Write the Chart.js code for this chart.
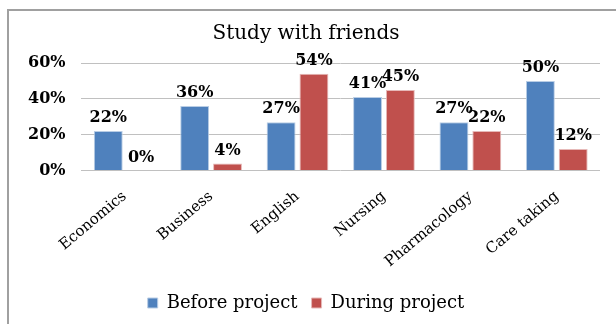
<!DOCTYPE html>
<html>
<head>
<meta charset="utf-8">
<script src="https://cdn.jsdelivr.net/npm/chart.js@4"></script>
<style>
  html, body { margin: 0; padding: 0; background: #fff; overflow: hidden; }
  #frame { position: absolute; left: 7px; top: 9px; width: 640px; height: 340px; border: 2px solid #a0a0a0; box-sizing: border-box; }
  #wrap { position: absolute; left: 0; top: 0; width: 616px; height: 324px; }
</style>
</head>
<body>
<div id="frame"></div>
<div id="wrap"><canvas id="chart" width="616" height="324"></canvas></div>
<script>
let subjects = ["Economics", "Business", "English", "Nursing", "Pharmacology", "Care taking"];
let beforeProject = [22, 36, 27, 41, 27, 50];
let duringProject = [0, 4, 54, 45, 22, 12];
let yTicks = [0, 20, 40, 60];

let serif = "'DejaVu Serif', 'Liberation Serif', serif";

// write each bar's value just above it
let valueLabels = {
  id: "valueLabels",
  afterDatasetsDraw(chart) {
    let ctx = chart.ctx;
    ctx.save();
    ctx.font = "bold 16px " + serif;
    ctx.fillStyle = "#000";
    ctx.textAlign = "center";
    ctx.textBaseline = "bottom";
    chart.data.datasets.forEach((ds, i) => {
      chart.getDatasetMeta(i).data.forEach((bar, j) => {
        ctx.fillText(ds.data[j] + "%", bar.x, bar.y - 5);
      });
    });
    ctx.restore();
  }
};

let ctx = document.getElementById("chart").getContext("2d");

new Chart(ctx, {
  type: "bar",
  data: {
    labels: subjects,
    datasets: [
      { label: "Before project", data: beforeProject, backgroundColor: "#4F81BD", borderColor: "#b9cde5", borderWidth: 1 },
      { label: "During project", data: duringProject, backgroundColor: "#C0504D", borderColor: "#e6b9b8", borderWidth: 1 }
    ]
  },
  options: {
    responsive: false,
    animation: false,
    layout: { padding: { left: 12, right: 16, top: 12, bottom: 2 } },
    datasets: { bar: { categoryPercentage: 0.76, barPercentage: 0.88 } },
    scales: {
      x: {
        grid: { display: false },
        border: { display: false },
        ticks: {
          color: "#000",
          font: { family: serif, size: 15 },
          minRotation: 40,
          maxRotation: 40,
          padding: 9
        }
      },
      y: {
        min: yTicks[0],
        max: yTicks[yTicks.length - 1],
        afterBuildTicks: axis => { axis.ticks = yTicks.map(v => ({ value: v })); },
        grid: { color: "#c0c0c0", drawTicks: false },
        border: { display: false },
        ticks: {
          color: "#000",
          font: { family: serif, size: 16, weight: "bold" },
          padding: 16,
          callback: v => v + "%"
        }
      }
    },
    plugins: {
      title: {
        display: true,
        text: "Study with friends",
        color: "#000",
        font: { family: serif, size: 20, weight: "normal" },
        padding: { top: 10, bottom: 17 }
      },
      legend: {
        position: "bottom",
        labels: {
          color: "#000",
          font: { family: serif, size: 18 },
          boxWidth: 10,
          boxHeight: 10,
          padding: 14
        }
      },
      tooltip: { enabled: false }
    }
  },
  plugins: [valueLabels]
});
</script>
</body>
</html>
